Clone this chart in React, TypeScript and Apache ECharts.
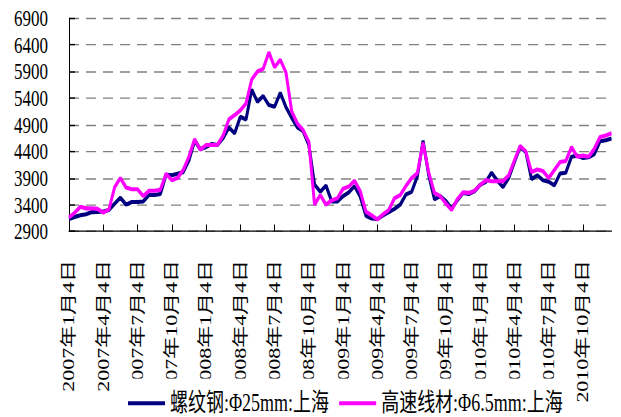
import React, { useEffect, useRef } from "react";
import * as echarts from "echarts";

// Semi-monthly price samples (4th and 19th of each month), Jan 2007 – Dec 2010.
const YEARS = [2007, 2008, 2009, 2010];
const MONTHS = [1, 2, 3, 4, 5, 6, 7, 8, 9, 10, 11, 12];
const DAYS = [4, 19];

const categories: string[] = [];
YEARS.forEach((y) =>
  MONTHS.forEach((m) => DAYS.forEach((d) => categories.push(`${y}年${m}月${d}日`)))
);

const SERIES_NAMES = ["螺纹钢:Φ25mm:上海", "高速线材:Φ6.5mm:上海"];

const rebar = [
  3130, 3170, 3200, 3220, 3260, 3265, 3270, 3300, 3420, 3530, 3400, 3450,
  3450, 3460, 3580, 3580, 3600, 3960, 3950, 3980, 4010, 4230, 4600, 4440,
  4480, 4540, 4520, 4650, 4850, 4740, 5050, 5000, 5560, 5330, 5440, 5270,
  5240, 5500, 5230, 5030, 4850, 4780, 4520, 3780, 3640, 3760, 3460, 3460,
  3560, 3630, 3750, 3550, 3190, 3140, 3130, 3200, 3260, 3320, 3400, 3590,
  3640, 3930, 4600, 3950, 3500, 3560, 3470, 3330, 3480, 3620, 3600, 3650,
  3770, 3830, 4000, 3850, 3730, 3900, 4200, 4480, 4390, 3880, 3950, 3860,
  3830, 3760, 3985, 4000, 4300, 4320, 4275, 4290, 4350, 4590, 4610, 4640,
];

const wireRod = [
  3160, 3250, 3360, 3330, 3330, 3320, 3250, 3310, 3730, 3900, 3720, 3690,
  3690, 3560, 3660, 3660, 3680, 3980, 3860, 3900, 4050, 4300, 4630, 4430,
  4520, 4520, 4520, 4700, 5000, 5080, 5170, 5300, 5750, 5900, 5950, 6260,
  5980, 6120, 5880, 5150, 4920, 4800, 4580, 3400, 3580, 3400, 3480, 3520,
  3700, 3740, 3850, 3650, 3270, 3200, 3120, 3220, 3300, 3520, 3580, 3750,
  3900, 3990, 4560, 4000, 3620, 3560, 3420, 3300, 3500, 3630, 3620, 3660,
  3770, 3860, 3840, 3840, 3840, 3950, 4230, 4500, 4400, 4010, 4060, 4030,
  3900, 4050, 4200, 4220, 4480, 4300, 4320, 4300, 4450, 4670, 4700, 4740,
];

const Y_MIN = 2900;
const Y_MAX = 6900;
const Y_STEP = 500;

const COLORS = ["#000080", "#FF00FF"];
const FONT = "'Liberation Serif', 'Times New Roman', 'Noto Sans CJK SC', serif";

// The chart is laid out at a reduced height and stretched vertically,
// giving the tall, narrow lettering of the original export.
const WIDTH = 621;
const HEIGHT = 304;
const STRETCH = 417 / HEIGHT;

export default function App() {
  const ref = useRef<HTMLDivElement>(null);

  useEffect(() => {
    if (!ref.current) return;
    const chart = echarts.init(ref.current, null, {
      renderer: "svg",
      width: WIDTH,
      height: HEIGHT,
    });

    chart.setOption({
      animation: false,
      backgroundColor: "#ffffff",
      grid: { left: 69, right: 9.5, top: 13.3, bottom: 135.4 },
      legend: {
        left: 123,
        top: 276,
        padding: [9, 5, 14, 5],
        backgroundColor: "#ffffff",
        itemGap: 10,
        itemWidth: 37,
        itemHeight: 3,
        textStyle: { fontSize: 18, color: "#000", fontFamily: FONT },
        data: SERIES_NAMES.map((name) => ({ name, icon: "rect" })),
      },
      xAxis: {
        type: "category",
        data: categories,
        boundaryGap: false,
        axisLine: { lineStyle: { color: "#000", width: 1 } },
        axisTick: {
          inside: true,
          length: 5,
          interval: 5,
          lineStyle: { color: "#000" },
        },
        axisLabel: {
          interval: 5,
          rotate: 90,
          margin: 21,
          fontSize: 16,
          color: "#000",
          fontFamily: FONT,
        },
        splitLine: { show: false },
      },
      yAxis: [
        {
          // value scale the price series are plotted on
          type: "value",
          min: Y_MIN,
          max: Y_MAX,
          show: false,
          splitLine: { show: false },
        },
        {
          // visible scale: offsets from Y_MIN, labelled in price units
          type: "value",
          min: 0,
          max: Y_MAX - Y_MIN,
          interval: Y_STEP,
          position: "left",
          axisLine: { show: true, lineStyle: { color: "#000", width: 1 } },
          axisTick: { show: true, inside: true, length: 6, lineStyle: { color: "#000" } },
          axisLabel: {
            margin: 21,
            fontSize: 17,
            color: "#000",
            fontFamily: FONT,
            formatter: (v: number) => String(v + Y_MIN),
          },
          splitLine: {
            show: true,
            lineStyle: { color: "#808080", width: 1, type: [10, 7] },
          },
        },
      ],
      series: [
        {
          name: SERIES_NAMES[0],
          type: "line",
          yAxisIndex: 0,
          data: rebar,
          symbol: "none",
          lineStyle: { color: COLORS[0], width: 3 },
          itemStyle: { color: COLORS[0] },
        },
        {
          name: SERIES_NAMES[1],
          type: "line",
          yAxisIndex: 0,
          data: wireRod,
          symbol: "none",
          lineStyle: { color: COLORS[1], width: 3 },
          itemStyle: { color: COLORS[1] },
        },
      ],
    });

    return () => chart.dispose();
  }, []);

  return (
    <div
      ref={ref}
      style={{
        position: "absolute",
        left: 0,
        top: 0,
        width: WIDTH,
        height: HEIGHT,
        transform: `scaleY(${STRETCH})`,
        transformOrigin: "0 0",
      }}
    />
  );
}
